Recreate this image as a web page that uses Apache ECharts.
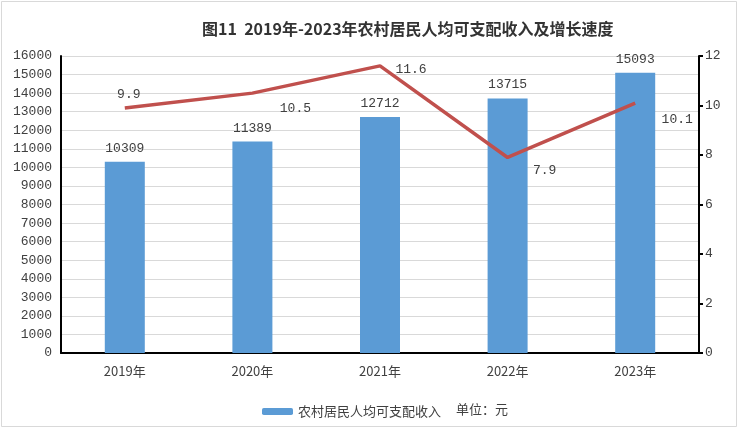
<!DOCTYPE html>
<html>
<head>
<meta charset="utf-8">
<script src="https://cdn.jsdelivr.net/npm/echarts@6/dist/echarts.min.js"></script>
<style>
  html, body { margin: 0; padding: 0; background: #fff; }
  #chart { width: 738px; height: 428px; }
</style>
</head>
<body>
<div id="chart"></div>
<script>
const years = ['2019年', '2020年', '2021年', '2022年', '2023年'];
const income = [10309, 11389, 12712, 13715, 15093];
const growth = [9.9, 10.5, 11.6, 7.9, 10.1];
// label offsets for the growth values, in pixels from the point
const growthLabelOffset = [[4, -13], [43, 15], [31, 4], [37, 13], [42, 17]];

const myChart = echarts.init(document.getElementById('chart'));

const numFont = '"Liberation Mono", "DejaVu Sans Mono", monospace';
const cjkFont = '"Noto Sans CJK SC", sans-serif';

const option = {
    backgroundColor: '#fff',
    animation: false,
    title: {
        text: '图11  2019年-2023年农村居民人均可支配收入及增长速度',
        left: 197,
        top: 16,
        textStyle: {
            fontSize: 16,
            fontWeight: 'bold',
            color: '#333',
            fontFamily: cjkFont
        }
    },
    legend: {
        bottom: 10,
        left: 262,
        padding: 0,
        itemWidth: 31,
        itemHeight: 7,
        itemGap: 5,
        data: ['农村居民人均可支配收入'],
        textStyle: { fontSize: 13, color: '#404040', fontFamily: cjkFont }
    },
    graphic: [{
        type: 'rect',
        shape: { x: 1.5, y: 1.5, width: 735, height: 425 },
        style: { fill: 'none', stroke: '#d9d9d9', lineWidth: 1 },
        silent: true
    }, {
        type: 'text',
        left: 456,
        top: 403,
        style: { text: '单位：元', fontSize: 13, fill: '#404040', fontFamily: cjkFont }
    }],
    grid: { left: 61, right: 39, top: 56, bottom: 75 },
    xAxis: {
        type: 'category',
        data: years,
        axisLine: { lineStyle: { color: '#000', width: 2 } },
        axisTick: { show: false },
        axisLabel: { color: '#404040', fontSize: 13, margin: 12, fontFamily: cjkFont }
    },
    yAxis: [{
        type: 'value',
        min: 0,
        max: 16000,
        interval: 1000,
        axisLine: { show: true, lineStyle: { color: '#000', width: 2 } },
        axisTick: { show: false },
        axisLabel: {
            color: '#404040', fontSize: 13, margin: 9, fontFamily: numFont,
            formatter: v => String(v)
        },
        splitLine: { lineStyle: { color: '#d9d9d9' } }
    }, {
        type: 'value',
        min: 0,
        max: 12,
        interval: 2,
        axisLine: { show: true, lineStyle: { color: '#000', width: 2 } },
        axisTick: { show: true, length: 4, lineStyle: { color: '#000', width: 2 } },
        axisLabel: { color: '#404040', fontSize: 13, margin: 6, fontFamily: numFont },
        splitLine: { show: false }
    }],
    series: [{
        name: '农村居民人均可支配收入',
        type: 'bar',
        data: income,
        barWidth: 40,
        itemStyle: { color: '#5b9bd5' },
        label: {
            show: true,
            position: 'top',
            distance: 7,
            color: '#404040',
            fontSize: 13,
            fontFamily: numFont
        }
    }, {
        name: '增长速度',
        type: 'line',
        yAxisIndex: 1,
        data: growth.map((v, i) => ({
            value: v,
            label: { offset: growthLabelOffset[i] }
        })),
        symbol: 'circle',
        symbolSize: 2,
        showSymbol: true,
        showAllSymbol: true,
        lineStyle: { color: '#c0504d', width: 3.5 },
        itemStyle: { color: 'rgba(192,80,77,0)', borderWidth: 0 },
        label: {
            show: true,
            position: 'inside',
            color: '#404040',
            fontSize: 13,
            fontFamily: numFont,
            formatter: p => p.value.toFixed(1)
        }
    }]
};

myChart.setOption(option);
</script>
</body>
</html>
